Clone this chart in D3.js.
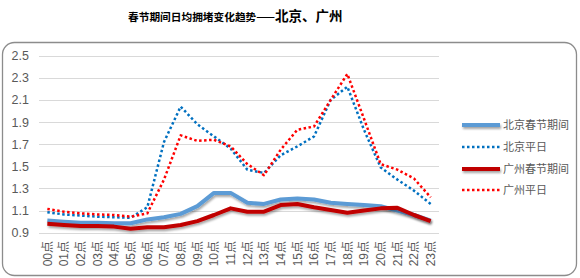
<!DOCTYPE html>
<html><head><meta charset="utf-8">
<script src="https://cdn.jsdelivr.net/npm/d3@7/dist/d3.min.js"></script>
<style>body{margin:0;background:#fff}svg{display:block}</style>
</head><body><svg id="c" width="580" height="278"></svg>
<script>
const hours = ["00点","01点","02点","03点","04点","05点","06点","07点","08点","09点","10点","11点","12点","13点","14点","15点","16点","17点","18点","19点","20点","21点","22点","23点"];
const bjHoliday = [1.01,1.00,0.99,0.99,0.985,0.985,1.02,1.04,1.07,1.14,1.26,1.26,1.17,1.16,1.20,1.21,1.20,1.17,1.16,1.15,1.14,1.10,1.06,1.01];
const bjNormal  = [1.085,1.065,1.055,1.045,1.04,1.035,1.13,1.72,2.04,1.88,1.77,1.66,1.47,1.44,1.60,1.68,1.77,2.10,2.22,1.83,1.49,1.38,1.28,1.16];
const gzHoliday = [0.98,0.97,0.96,0.96,0.955,0.935,0.95,0.95,0.97,1.005,1.06,1.12,1.09,1.09,1.15,1.16,1.13,1.105,1.08,1.10,1.12,1.125,1.06,1.005];
const gzNormal  = [1.115,1.09,1.075,1.065,1.06,1.045,1.075,1.38,1.78,1.73,1.74,1.68,1.52,1.42,1.65,1.83,1.86,2.10,2.335,1.93,1.52,1.47,1.39,1.22];
const yTicks = [0.9,1.1,1.3,1.5,1.7,1.9,2.1,2.3,2.5];
const seriesNames = ["北京春节期间","北京平日","广州春节期间","广州平日"];

const svg = d3.select("#c");
const defs = svg.append("defs");
const f = defs.append("filter").attr("id","sh").attr("filterUnits","userSpaceOnUse")
  .attr("x",0).attr("y",0).attr("width",580).attr("height",278);
f.append("feDropShadow").attr("dx",1).attr("dy",2).attr("stdDeviation",1.2).attr("flood-color","#000").attr("flood-opacity",0.35);

svg.append("rect").attr("x",2.5).attr("y",42.5).attr("width",574).attr("height",233).attr("rx",12)
  .attr("fill","#fff").attr("stroke","#8c8c8c").attr("stroke-width",1.3);

const title = svg.append("text").attr("x",128).attr("y",21).attr("font-family","Noto Sans CJK SC").attr("font-weight","bold").attr("fill","#000");
title.append("tspan").attr("font-size","10.7px").text("春节期间日均拥堵变化趋势");
title.append("tspan").attr("font-size","11px").text("——");
title.append("tspan").attr("font-size","13.5px").text("北京、广州");

const x = d3.scaleBand().domain(hours).range([39,439]);
const y = d3.scaleLinear().domain([0.9,2.5]).range([232.7,55.7]);

const grid = svg.append("g");
grid.selectAll("line").data(yTicks).join("line")
  .attr("x1",39).attr("x2",439).attr("y1",d=>Math.round(y(d))+0.5).attr("y2",d=>Math.round(y(d))+0.5)
  .attr("stroke","#d9d9d9").attr("stroke-width",1);

const yAxis = svg.append("g").attr("transform","translate(39,0)")
  .call(d3.axisLeft(y).tickValues(yTicks).tickFormat(d3.format(".1f")).tickSize(0).tickPadding(10));
yAxis.select(".domain").remove();
yAxis.selectAll("text").attr("font-family","Liberation Sans").attr("font-size","12.5px").attr("fill","#595959");

const xAxis = svg.append("g").attr("transform","translate(0,239)")
  .call(d3.axisBottom(x).tickSize(0).tickPadding(0));
xAxis.select(".domain").remove();
xAxis.selectAll(".tick text").attr("font-family","Liberation Sans, Noto Sans CJK SC").attr("font-size","12px").attr("fill","#595959")
  .attr("text-anchor","end").attr("dy","0.35em").attr("x",-2).attr("y",0).attr("transform","rotate(-90)");

const line = d3.line().x((d,i)=>x(hours[i])+x.bandwidth()/2).y(d=>y(d));
const styles = [
  {data:bjHoliday,color:"#5b9bd5",w:4,dash:null,shadow:true},
  {data:bjNormal,color:"#0070c0",w:2.5,dash:"2.5 2.5",shadow:false},
  {data:gzHoliday,color:"#c00000",w:4,dash:null,shadow:true},
  {data:gzNormal,color:"#ff0000",w:2.5,dash:"2.5 2.5",shadow:false}
];
styles.forEach(s=>{
  svg.append("path").attr("d",line(s.data)).attr("fill","none").attr("stroke",s.color).attr("stroke-width",s.w)
    .attr("stroke-dasharray",s.dash).attr("stroke-linejoin","round")
    .attr("filter",s.shadow?"url(#sh)":null);
});

const legY = [125,147,169,190];
const leg = svg.append("g");
styles.forEach((s,i)=>{
  leg.append("line").attr("x1",462).attr("x2",500).attr("y1",legY[i]).attr("y2",legY[i])
    .attr("stroke",s.color).attr("stroke-width",s.w).attr("stroke-dasharray",s.dash)
    .attr("filter",s.shadow?"url(#sh)":null);
  leg.append("text").attr("x",503).attr("y",legY[i]).attr("dy","0.35em").attr("font-family","Noto Sans CJK SC")
    .attr("font-size","11px").attr("fill","#595959").text(seriesNames[i]);
});
</script></body></html>
